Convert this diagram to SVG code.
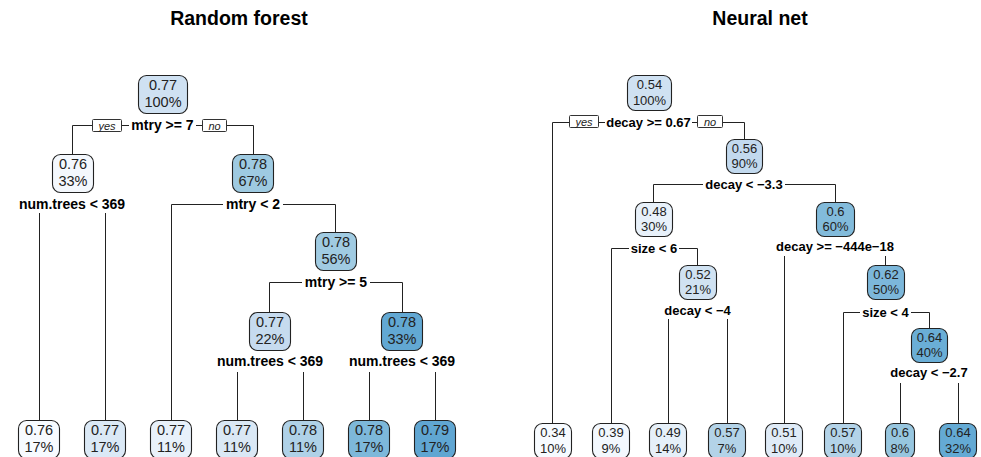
<svg xmlns="http://www.w3.org/2000/svg" width="981" height="457" viewBox="0 0 981 457">
<style>
.bg{fill:#ffffff}
.title{font-family:"Liberation Sans",Arial,sans-serif;font-weight:bold;font-size:19.5px;fill:#000;text-anchor:middle}
.nd rect{stroke:#222;stroke-width:1.1}
.rf text{font-family:"Liberation Sans",Arial,sans-serif;font-size:14.5px;fill:#222;text-anchor:middle}
.nn text{font-family:"Liberation Sans",Arial,sans-serif;font-size:13px;fill:#222;text-anchor:middle}
.rf text.sp{font-weight:bold;font-size:14px;fill:#000}
.nn text.sp{font-weight:bold;font-size:13px;fill:#000}
.conn path{fill:none;stroke:#222;stroke-width:1}
.yn rect{fill:#fff;stroke:#333;stroke-width:1}
.yn text{font-family:"Liberation Sans",Arial,sans-serif;font-style:italic;font-size:11px;fill:#222;text-anchor:middle}
</style>
<rect class="bg" x="0" y="0" width="981" height="457"/>
<text class="title" x="239" y="25">Random forest</text>
<text class="title" x="760" y="25">Neural net</text>

<g id="connectors" class="conn">
  <!-- Random forest -->
  <path d="M72.5,154 V125.5 H92"/>
  <path d="M122,125.5 H129"/>
  <path d="M196,125.5 H202"/>
  <path d="M227,125.5 H253.5 V154"/>
  <path d="M39.5,213 V420"/>
  <path d="M105.5,213 V420"/>
  <path d="M171.5,420 V204.5 H223"/>
  <path d="M283,204.5 H335.5 V232"/>
  <path d="M269.5,312 V282.5 H302"/>
  <path d="M370,282.5 H402.5 V312"/>
  <path d="M237.5,372 V420"/>
  <path d="M303.5,372 V420"/>
  <path d="M369.5,372 V420"/>
  <path d="M435.5,372 V420"/>
  <!-- Neural net -->
  <path d="M552.5,423 V122.5 H569"/>
  <path d="M599,122.5 H605"/>
  <path d="M692,122.5 H697"/>
  <path d="M723,122.5 H744.5 V139"/>
  <path d="M653.5,202 V184.5 H703"/>
  <path d="M785,184.5 H835.5 V202"/>
  <path d="M611.5,423 V248.5 H629"/>
  <path d="M679,248.5 H697.5 V265"/>
  <path d="M668.5,319 V423"/>
  <path d="M727.5,319 V423"/>
  <path d="M784.5,256 V423"/>
  <path d="M885.5,256 V265"/>
  <path d="M843.5,423 V312.5 H860"/>
  <path d="M911,312.5 H929.5 V328"/>
  <path d="M900.5,383 V423"/>
  <path d="M958.5,383 V423"/>
  <g class="yn">
    <rect x="92.5" y="119.5" width="29" height="12" rx="1"/><text x="107" y="129.5">yes</text>
    <rect x="202.5" y="119.5" width="24" height="12" rx="1"/><text x="214.5" y="129.5">no</text>
    <rect x="569.5" y="115.5" width="29" height="12" rx="1"/><text x="584" y="125.5">yes</text>
    <rect x="697.5" y="115.5" width="25" height="12" rx="1"/><text x="710" y="125.5">no</text>
  </g>
</g>

<!-- Random forest nodes -->
<g class="nd rf">
  <g id="rf-root"><rect x="138.5" y="75.5" width="49" height="38" rx="8" fill="#cfe1f2"/><text x="163" y="90">0.77</text><text x="163" y="107">100%</text><text class="sp" x="162.5" y="130">mtry &gt;= 7</text></g>
  <g id="rf-n2"><rect x="52.5" y="154.5" width="41" height="38" rx="8" fill="#f4f8fd"/><text x="73" y="169">0.76</text><text x="73" y="186">33%</text><text class="sp" x="72" y="209">num.trees &lt; 369</text></g>
  <g id="rf-n3"><rect x="232.5" y="154.5" width="41" height="38" rx="8" fill="#9ecae1"/><text x="253" y="169">0.78</text><text x="253" y="186">67%</text><text class="sp" x="253" y="209">mtry &lt; 2</text></g>
  <g id="rf-n7"><rect x="315.5" y="232.5" width="41" height="38" rx="8" fill="#a0cbe2"/><text x="336" y="247">0.78</text><text x="336" y="264">56%</text><text class="sp" x="336" y="287">mtry &gt;= 5</text></g>
  <g id="rf-n14"><rect x="249.5" y="312.5" width="41" height="38" rx="8" fill="#c6dbef"/><text x="270" y="327">0.77</text><text x="270" y="344">22%</text><text class="sp" x="270" y="366">num.trees &lt; 369</text></g>
  <g id="rf-n15"><rect x="381.5" y="312.5" width="41" height="38" rx="8" fill="#62a8d3"/><text x="402" y="327">0.78</text><text x="402" y="344">33%</text><text class="sp" x="402" y="366">num.trees &lt; 369</text></g>
  <g id="rf-l1"><rect x="18.5" y="420.5" width="41" height="38" rx="8" fill="#f7fbff"/><text x="39" y="435">0.76</text><text x="39" y="452">17%</text></g>
  <g id="rf-l2"><rect x="84.5" y="420.5" width="41" height="38" rx="8" fill="#dbe9f6"/><text x="105" y="435">0.77</text><text x="105" y="452">17%</text></g>
  <g id="rf-l3"><rect x="150.5" y="420.5" width="41" height="38" rx="8" fill="#e8f1fa"/><text x="171" y="435">0.77</text><text x="171" y="452">11%</text></g>
  <g id="rf-l4"><rect x="216.5" y="420.5" width="41" height="38" rx="8" fill="#dae8f5"/><text x="237" y="435">0.77</text><text x="237" y="452">11%</text></g>
  <g id="rf-l5"><rect x="282.5" y="420.5" width="41" height="38" rx="8" fill="#afd1e7"/><text x="303" y="435">0.78</text><text x="303" y="452">11%</text></g>
  <g id="rf-l6"><rect x="348.5" y="420.5" width="41" height="38" rx="8" fill="#7db8da"/><text x="369" y="435">0.78</text><text x="369" y="452">17%</text></g>
  <g id="rf-l7"><rect x="414.5" y="420.5" width="41" height="38" rx="8" fill="#60a6d2"/><text x="435" y="435">0.79</text><text x="435" y="452">17%</text></g>
</g>

<!-- Neural net nodes -->
<g class="nd nn">
  <g id="nn-root"><rect x="627.5" y="75.5" width="44" height="35" rx="8" fill="#cfe1f2"/><text x="649.5" y="89">0.54</text><text x="649.5" y="105">100%</text><text class="sp" x="648.5" y="127">decay &gt;= 0.67</text></g>
  <g id="nn-n3"><rect x="726.5" y="139.5" width="36" height="34" rx="8" fill="#c2d9ee"/><text x="744.5" y="153">0.56</text><text x="744.5" y="168">90%</text><text class="sp" x="744" y="189">decay &lt; −3.3</text></g>
  <g id="nn-n6"><rect x="635.5" y="202.5" width="37" height="34" rx="8" fill="#e8f1fa"/><text x="654" y="216">0.48</text><text x="654" y="231">30%</text><text class="sp" x="654" y="253">size &lt; 6</text></g>
  <g id="nn-n7"><rect x="816.5" y="202.5" width="38" height="34" rx="8" fill="#82bbdb"/><text x="835.5" y="216">0.6</text><text x="835.5" y="231">60%</text><text class="sp" x="835" y="251">decay &gt;= −444e−18</text></g>
  <g id="nn-n13"><rect x="679.5" y="265.5" width="37" height="34" rx="8" fill="#d0e2f2"/><text x="698" y="279">0.52</text><text x="698" y="294">21%</text><text class="sp" x="697.5" y="315">decay &lt; −4</text></g>
  <g id="nn-n15"><rect x="867.5" y="265.5" width="37" height="34" rx="8" fill="#7cb7da"/><text x="886" y="279">0.62</text><text x="886" y="294">50%</text><text class="sp" x="885.5" y="317">size &lt; 4</text></g>
  <g id="nn-n31"><rect x="911.5" y="328.5" width="36" height="34" rx="8" fill="#6aaed6"/><text x="929.5" y="342">0.64</text><text x="929.5" y="357">40%</text><text class="sp" x="929" y="377">decay &lt; −2.7</text></g>
  <g id="nn-l1"><rect x="534.5" y="423.5" width="37" height="35" rx="8" fill="#f7fbff"/><text x="553" y="437">0.34</text><text x="553" y="453">10%</text></g>
  <g id="nn-l2"><rect x="592.5" y="423.5" width="37" height="35" rx="8" fill="#f3f8fe"/><text x="611" y="437">0.39</text><text x="611" y="453">9%</text></g>
  <g id="nn-l3"><rect x="649.5" y="423.5" width="37" height="35" rx="8" fill="#e6f0f9"/><text x="668" y="437">0.49</text><text x="668" y="453">14%</text></g>
  <g id="nn-l4"><rect x="708.5" y="423.5" width="37" height="35" rx="8" fill="#b3d3e8"/><text x="727" y="437">0.57</text><text x="727" y="453">7%</text></g>
  <g id="nn-l5"><rect x="765.5" y="423.5" width="37" height="35" rx="8" fill="#dfebf7"/><text x="784" y="437">0.51</text><text x="784" y="453">10%</text></g>
  <g id="nn-l6"><rect x="824.5" y="423.5" width="37" height="35" rx="8" fill="#b3d3e8"/><text x="843" y="437">0.57</text><text x="843" y="453">10%</text></g>
  <g id="nn-l7"><rect x="885.5" y="423.5" width="29" height="35" rx="8" fill="#97c6df"/><text x="900" y="437">0.6</text><text x="900" y="453">8%</text></g>
  <g id="nn-l8"><rect x="939.5" y="423.5" width="37" height="35" rx="8" fill="#64aad4"/><text x="958" y="437">0.64</text><text x="958" y="453">32%</text></g>
</g>
</svg>
